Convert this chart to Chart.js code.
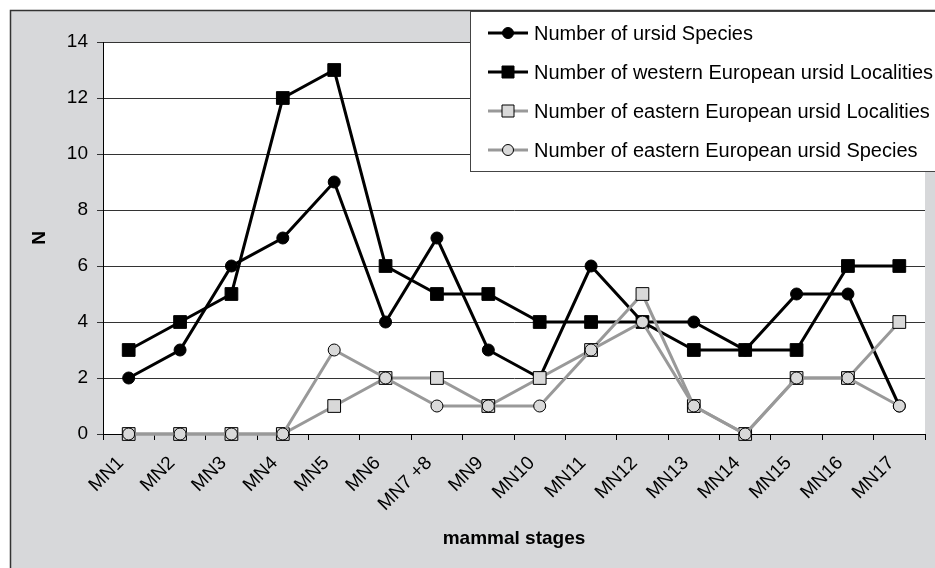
<!DOCTYPE html>
<html>
<head>
<meta charset="utf-8">
<script src="https://cdn.jsdelivr.net/npm/chart.js@4/dist/chart.umd.min.js"></script>
<style>
  html, body { margin: 0; padding: 0; background: #ffffff; }
  #wrap { width: 935px; height: 568px; position: relative; }
</style>
</head>
<body>
<div id="wrap"><canvas id="ursidChart" width="935" height="568"></canvas></div>
<script>
// data
const stages = ['MN1', 'MN2', 'MN3', 'MN4', 'MN5', 'MN6', 'MN7 +8', 'MN9', 'MN10', 'MN11', 'MN12', 'MN13', 'MN14', 'MN15', 'MN16', 'MN17'];
const ursidSpecies = [2, 3, 6, 7, 9, 4, 7, 3, 2, 6, 4, 4, 3, 5, 5, 1];
const westLocalities = [3, 4, 5, 12, 13, 6, 5, 5, 4, 4, 4, 3, 3, 3, 6, 6];
const eastLocalities = [0, 0, 0, 0, 1, 2, 2, 1, 2, 3, 5, 1, 0, 2, 2, 4];
const eastSpecies = [0, 0, 0, 0, 3, 2, 1, 1, 1, 3, 4, 1, 0, 2, 2, 1];
const yTicks = [0, 2, 4, 6, 8, 10, 12, 14];

const FONT = '"Liberation Sans", Arial, sans-serif';
const lightGrey = '#d9d9d9';
const lineGrey = '#999999';

/* chart background + plot area */
const backdrop = {
    id: 'backdrop',
    beforeDraw(chart) {
        const ctx = chart.ctx;
        const a = chart.chartArea;
        ctx.save();
        ctx.fillStyle = '#d7d8da';
        ctx.fillRect(10, 10, chart.width, chart.height);
        ctx.strokeStyle = '#333333';
        ctx.lineWidth = 1.5;
        ctx.beginPath();
        ctx.moveTo(10.5, chart.height + 2);
        ctx.lineTo(10.5, 10.5);
        ctx.lineTo(chart.width + 2, 10.5);
        ctx.stroke();
        ctx.fillStyle = '#ffffff';
        ctx.fillRect(a.left, a.top, a.right - a.left, a.bottom - a.top);
        ctx.restore();
    }
};

/* legend box overlapping the plot, like the Excel one */
const boxLegend = {
    id: 'boxLegend',
    afterDraw(chart) {
        const ctx = chart.ctx;
        const x0 = 470.5, y0 = 11.5, h = 160;
        ctx.save();
        ctx.fillStyle = '#ffffff';
        ctx.fillRect(x0, y0, chart.width, h);
        ctx.strokeStyle = '#444444';
        ctx.lineWidth = 1;
        ctx.strokeRect(x0, y0, chart.width, h);
        ctx.font = '20px ' + FONT;
        ctx.textBaseline = 'middle';
        chart.data.datasets.forEach((ds, i) => {
            const y = 33 + i * 39;
            ctx.strokeStyle = ds.borderColor;
            ctx.lineWidth = 3;
            ctx.beginPath();
            ctx.moveTo(488, y);
            ctx.lineTo(528, y);
            ctx.stroke();
            ctx.fillStyle = ds.pointBackgroundColor;
            ctx.strokeStyle = ds.pointBorderColor;
            ctx.lineWidth = 1;
            ctx.beginPath();
            if (ds.pointStyle === 'rect') {
                ctx.rect(502, y - 6, 12, 12);
            } else {
                ctx.arc(508, y, 5.5, 0, Math.PI * 2);
            }
            ctx.fill();
            ctx.stroke();
            ctx.fillStyle = '#000000';
            ctx.fillText(ds.label, 534, y + 1);
        });
        ctx.restore();
    }
};

function series(label, data, line, fill, style, order) {
    return {
        label: label,
        data: data,
        borderColor: line,
        borderWidth: 3,
        pointStyle: style,
        pointRadius: style === 'rect' ? 9 : 6,
        pointBackgroundColor: fill,
        pointBorderColor: '#000000',
        pointBorderWidth: 1,
        tension: 0,
        clip: false,
        order: order
    };
}

const ctx = document.getElementById('ursidChart').getContext('2d');

new Chart(ctx, {
    type: 'line',
    data: {
        labels: stages,
        datasets: [
            series('Number of ursid Species', ursidSpecies, '#000000', '#000000', 'circle', 3),
            series('Number of western European ursid Localities', westLocalities, '#000000', '#000000', 'rect', 2),
            series('Number of eastern European ursid Localities', eastLocalities, lineGrey, lightGrey, 'rect', 1),
            series('Number of eastern European ursid Species', eastSpecies, lineGrey, lightGrey, 'circle', 0)
        ]
    },
    options: {
        responsive: false,
        animation: false,
        layout: { padding: { left: 10, top: 42, right: 5, bottom: 0 } },
        plugins: {
            legend: { display: false },
            tooltip: { enabled: false }
        },
        scales: {
            x: {
                offset: true,
                grid: {
                    offset: true,
                    drawOnChartArea: false,
                    drawTicks: true,
                    tickLength: 6,
                    color: '#000000'
                },
                border: { color: '#000000', width: 1 },
                ticks: {
                    color: '#000000',
                    font: { family: FONT, size: 19 },
                    minRotation: 45,
                    maxRotation: 45,
                    autoSkip: false,
                    padding: 12,
                    labelOffset: -8
                },
                title: {
                    display: true,
                    text: 'mammal stages',
                    color: '#000000',
                    font: { family: FONT, size: 19, weight: 'bold' },
                    padding: { top: 0, bottom: 18 }
                },
                afterFit(scale) { scale.height = 134; }
            },
            y: {
                min: 0,
                max: 14,
                afterBuildTicks(scale) { scale.ticks = yTicks.map(v => ({ value: v })); },
                grid: {
                    color: '#333333',
                    lineWidth: 1,
                    drawTicks: true,
                    tickLength: 6
                },
                border: { color: '#000000', width: 1 },
                ticks: {
                    color: '#000000',
                    font: { family: FONT, size: 19 },
                    padding: 9
                },
                title: {
                    display: true,
                    text: 'N',
                    color: '#000000',
                    font: { family: FONT, size: 19, weight: 'bold' },
                    padding: { top: 18, bottom: 0 }
                },
                afterFit(scale) { scale.width = 93; }
            }
        }
    },
    plugins: [backdrop, boxLegend]
});
</script>
</body>
</html>
